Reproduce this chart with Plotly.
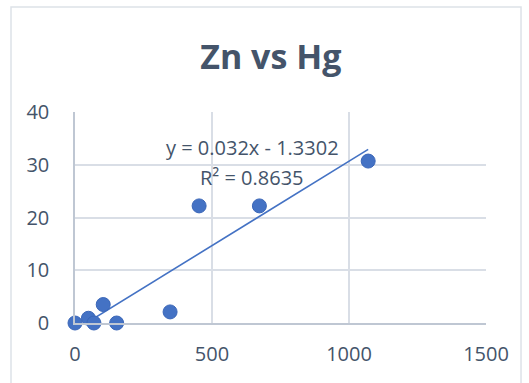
import plotly.graph_objects as go

# Zn concentrations (x) and Hg concentrations (y)
zn = [0, 49, 69, 103, 152, 347, 453, 673, 1070]
hg = [0, 0.9, 0, 3.5, 0, 2.1, 22.2, 22.2, 30.7]

# Linear trendline coefficients and fit quality
slope = 0.032
intercept = -1.3302
r_squared = 0.8635

x_ticks = [0, 500, 1000, 1500]
y_ticks = [0, 10, 20, 30, 40]

TEXT = "#44546A"
GRID = "#D9DEE6"
AXIS = "#BFC7D3"
BLUE = "#4472C4"
FONT = "Open Sans"

trend_x = [min(zn), max(zn)]
trend_y = [slope * v + intercept for v in trend_x]

fig = go.Figure()
fig.add_trace(go.Scatter(
    x=trend_x, y=trend_y, mode="lines",
    line=dict(color=BLUE, width=1.6),
    hoverinfo="skip", showlegend=False,
))
fig.add_trace(go.Scatter(
    x=zn, y=hg, mode="markers",
    marker=dict(size=14, color=BLUE, line=dict(color="#3A66B8", width=1)),
    cliponaxis=False, showlegend=False,
))

sign = "-" if intercept < 0 else "+"
fig.add_annotation(x=646, y=33.2, xref="x", yref="y",
                   text=f"y = {slope}x {sign} {abs(intercept)}",
                   showarrow=False, xanchor="center", yanchor="middle",
                   font=dict(family=FONT, size=20, color=TEXT))
fig.add_annotation(x=646, y=27.5, xref="x", yref="y",
                   text=f"R² = {r_squared}",
                   showarrow=False, xanchor="center", yanchor="middle",
                   font=dict(family=FONT, size=20, color=TEXT))

# chart-area border
fig.add_shape(type="rect", xref="paper", yref="paper",
              x0=-0.1557, x1=1.0852, y0=-0.40, y1=1.4976,
              line=dict(color="#DDE2E8", width=1.5), layer="below")

fig.update_layout(
    width=529, height=383,
    margin=dict(l=75, r=43, t=112, b=60),
    paper_bgcolor="white", plot_bgcolor="white",
    title=dict(text="<b>Zn vs Hg</b>", x=0.512, y=0.851,
               xref="container", yref="container",
               xanchor="center", yanchor="middle",
               font=dict(family=FONT, size=34, color=TEXT)),
    xaxis=dict(range=[0, 1500], tickvals=x_ticks, showgrid=True,
               gridcolor=GRID, gridwidth=1.5, zeroline=False,
               showline=True, linecolor=AXIS, linewidth=1.5,
               ticks="", ticklabelstandoff=12,
               tickfont=dict(family=FONT, size=20, color=TEXT)),
    yaxis=dict(range=[0, 40], tickvals=y_ticks, showgrid=True,
               gridcolor=GRID, gridwidth=1.5, zeroline=False,
               showline=True, linecolor=AXIS, linewidth=1.5,
               ticks="", ticklabelstandoff=20,
               tickfont=dict(family=FONT, size=20, color=TEXT)),
)

fig.write_html("out.html")
